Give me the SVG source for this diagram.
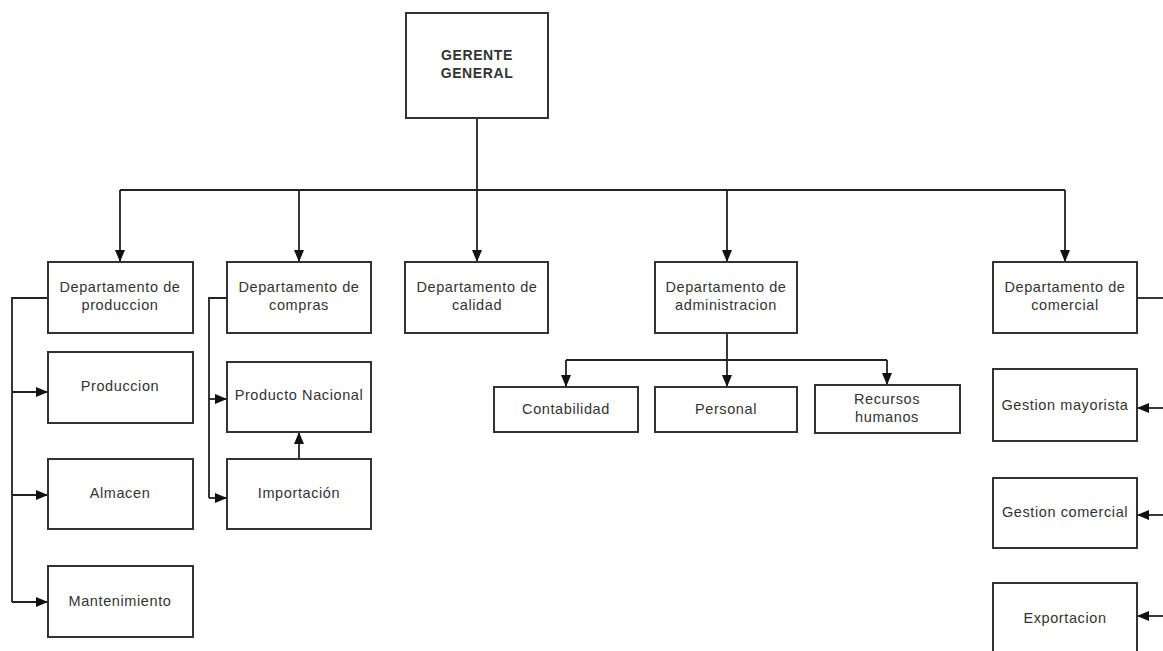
<svg xmlns="http://www.w3.org/2000/svg" width="1163" height="651" viewBox="0 0 1163 651">
<style>
.box{fill:#fff;stroke:#333;stroke-width:2}
.t{font-family:"Liberation Sans",Arial,sans-serif;font-size:14.5px;letter-spacing:0.6px;fill:#333;text-anchor:middle}
.b{font-weight:bold;font-size:14px;letter-spacing:0.6px}
.c{fill:none;stroke:#222;stroke-width:1.8}
</style>
<defs>
<marker id="ah" markerWidth="12" markerHeight="10" refX="11" refY="5" orient="auto" markerUnits="userSpaceOnUse">
<path d="M0,0 L12,5 L0,10 Z" fill="#111"/>
</marker>
</defs>
<rect width="1163" height="651" fill="#fff"/>
<g id="connectors">
<path class="c" d="M477,118 V190"/>
<path class="c" d="M120,190 H1065"/>
<path class="c" d="M120,190 V261" marker-end="url(#ah)"/>
<path class="c" d="M299,190 V261" marker-end="url(#ah)"/>
<path class="c" d="M477,190 V261" marker-end="url(#ah)"/>
<path class="c" d="M727,190 V261" marker-end="url(#ah)"/>
<path class="c" d="M1065,190 V261" marker-end="url(#ah)"/>
<path class="c" d="M48,298 H12 V602"/>
<path class="c" d="M12,392 H47" marker-end="url(#ah)"/>
<path class="c" d="M12,495 H47" marker-end="url(#ah)"/>
<path class="c" d="M12,602 H47" marker-end="url(#ah)"/>
<path class="c" d="M227,298 H209 V498"/>
<path class="c" d="M209,399 H226" marker-end="url(#ah)"/>
<path class="c" d="M209,498 H226" marker-end="url(#ah)"/>
<path class="c" d="M299,459 V433" marker-end="url(#ah)"/>
<path class="c" d="M727,333 V360"/>
<path class="c" d="M566,360 H887"/>
<path class="c" d="M566,360 V386" marker-end="url(#ah)"/>
<path class="c" d="M727,360 V386" marker-end="url(#ah)"/>
<path class="c" d="M887,360 V384" marker-end="url(#ah)"/>
<path class="c" d="M1137,298 H1163"/>
<path class="c" d="M1163,408 H1138" marker-end="url(#ah)"/>
<path class="c" d="M1163,515 H1138" marker-end="url(#ah)"/>
<path class="c" d="M1163,616 H1138" marker-end="url(#ah)"/>
</g>
<g id="gerente"><rect class="box" x="406" y="13" width="142" height="105"/><text class="t b" x="477" y="60">GERENTE</text><text class="t b" x="477" y="78">GENERAL</text></g>
<g id="produccion"><rect class="box" x="48" y="262" width="145" height="71"/><text class="t" x="120" y="292">Departamento de</text><text class="t" x="120" y="310">produccion</text></g>
<g id="compras"><rect class="box" x="227" y="262" width="144" height="71"/><text class="t" x="299" y="292">Departamento de</text><text class="t" x="299" y="310">compras</text></g>
<g id="calidad"><rect class="box" x="405" y="262" width="143" height="71"/><text class="t" x="477" y="292">Departamento de</text><text class="t" x="477" y="310">calidad</text></g>
<g id="administracion"><rect class="box" x="655" y="262" width="142" height="71"/><text class="t" x="726" y="292">Departamento de</text><text class="t" x="726" y="310">administracion</text></g>
<g id="comercial"><rect class="box" x="993" y="262" width="144" height="71"/><text class="t" x="1065" y="292">Departamento de</text><text class="t" x="1065" y="310">comercial</text></g>
<g id="prod"><rect class="box" x="48" y="352" width="145" height="71"/><text class="t" x="120" y="391">Produccion</text></g>
<g id="almacen"><rect class="box" x="48" y="459" width="145" height="70"/><text class="t" x="120" y="498">Almacen</text></g>
<g id="mantenimiento"><rect class="box" x="48" y="566" width="145" height="71"/><text class="t" x="120" y="606">Mantenimiento</text></g>
<g id="nacional"><rect class="box" x="227" y="362" width="144" height="70"/><text class="t" x="299" y="400">Producto Nacional</text></g>
<g id="importacion"><rect class="box" x="227" y="459" width="144" height="70"/><text class="t" x="299" y="498">Importación</text></g>
<g id="contabilidad"><rect class="box" x="494" y="387" width="144" height="45"/><text class="t" x="566" y="414">Contabilidad</text></g>
<g id="personal"><rect class="box" x="655" y="387" width="142" height="45"/><text class="t" x="726" y="414">Personal</text></g>
<g id="recursos"><rect class="box" x="815" y="385" width="145" height="48"/><text class="t" x="887" y="404">Recursos</text><text class="t" x="887" y="422">humanos</text></g>
<g id="mayorista"><rect class="box" x="993" y="369" width="144" height="72"/><text class="t" x="1065" y="410">Gestion mayorista</text></g>
<g id="gcomercial"><rect class="box" x="993" y="478" width="144" height="70"/><text class="t" x="1065" y="517">Gestion comercial</text></g>
<g id="exportacion"><rect class="box" x="993" y="583" width="144" height="80"/><text class="t" x="1065" y="623">Exportacion</text></g>
</svg>
